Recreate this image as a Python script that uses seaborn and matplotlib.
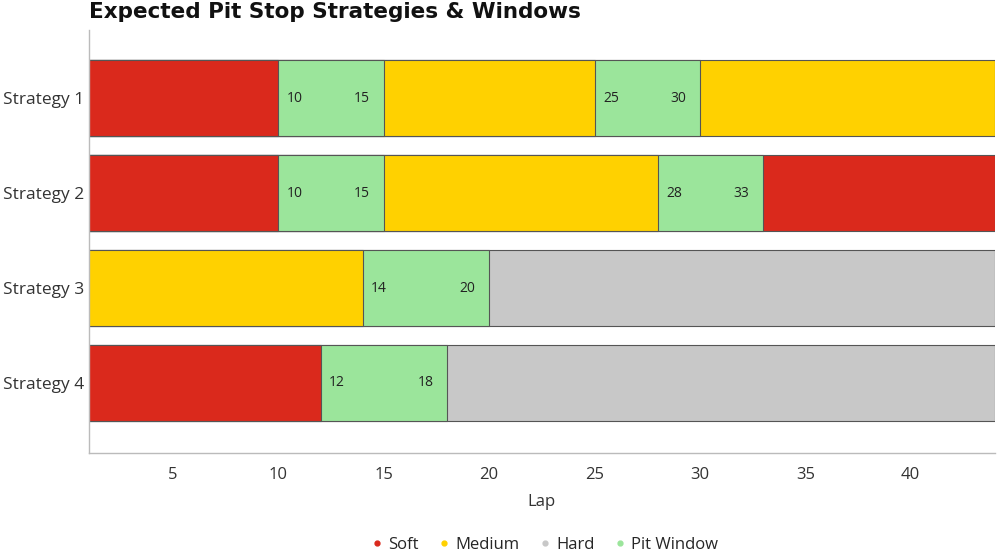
import matplotlib
matplotlib.use("Agg")
import matplotlib.pyplot as plt
from matplotlib.lines import Line2D
import seaborn as sns
import pandas as pd

strategies = ["Strategy 1", "Strategy 2", "Strategy 3", "Strategy 4"]
seg_strategy = ["Strategy 1"] * 5 + ["Strategy 2"] * 5 + ["Strategy 3"] * 3 + ["Strategy 4"] * 3
seg_compound = ["Soft", "Pit Window", "Medium", "Pit Window", "Medium",
                "Soft", "Pit Window", "Medium", "Pit Window", "Soft",
                "Medium", "Pit Window", "Hard",
                "Soft", "Pit Window", "Hard"]
seg_start = [1, 10, 15, 25, 30,
             1, 10, 15, 28, 33,
             1, 14, 20,
             1, 12, 18]
seg_end = [10, 15, 25, 30, 44,
           10, 15, 28, 33, 44,
           14, 20, 44,
           12, 18, 44]
compounds = ["Soft", "Medium", "Hard", "Pit Window"]
colors = {"Soft": "#DA291C", "Medium": "#FFD100", "Hard": "#C8C8C8", "Pit Window": "#9BE59B"}

df = pd.DataFrame({"strategy": seg_strategy, "compound": seg_compound,
                   "start": seg_start, "end": seg_end})

sns.set_style("white")
plt.rcParams["font.family"] = ["Open Sans", "DejaVu Sans"]

fig, ax = plt.subplots(figsize=(9.97, 5.51), dpi=100)
fig.subplots_adjust(left=0.089, right=0.998, top=0.945, bottom=0.178)

# draw longest first so shorter segments overlay
df_sorted = df.sort_values("end", ascending=False)
for _, row in df_sorted.iterrows():
    sub = pd.DataFrame({"strategy": [row["strategy"]], "end": [row["end"]]})
    sub["strategy"] = pd.Categorical(sub["strategy"], categories=strategies)
    sns.barplot(data=sub, x="end", y="strategy", order=strategies, color=colors[row["compound"]],
                saturation=1, width=0.8, edgecolor="#555555", linewidth=0.8, ax=ax, orient="h")

# pit window labels
pos = {s: i for i, s in enumerate(strategies)}
for _, row in df[df["compound"] == "Pit Window"].iterrows():
    y = pos[row["strategy"]]
    ax.text(row["start"] + 0.4, y, f"{row['start']}", ha="left", va="center", fontsize=10, color="#222222")
    ax.text(row["end"] - 0.65, y, f"{row['end']}", ha="right", va="center", fontsize=10, color="#222222")

ax.set_xlim(1, 44)
ax.set_ylim(3.737, -0.716)
ax.set_xticks([5, 10, 15, 20, 25, 30, 35, 40])
ax.set_xlabel("Lap", fontsize=12, color="#333333", labelpad=8)
ax.set_ylabel("")
ax.tick_params(axis="x", direction="in", length=7, color="#666666", labelsize=12, labelcolor="#333333", pad=10)
ax.tick_params(axis="y", length=0, labelsize=12.5, labelcolor="#333333", pad=3)
for s in ["top", "right"]:
    ax.spines[s].set_visible(False)
for s in ["left", "bottom"]:
    ax.spines[s].set_color("#BBBBBB")
    ax.spines[s].set_linewidth(1)

fig.text(0.089, 0.997, "Expected Pit Stop Strategies & Windows", ha="left", va="top",
         fontsize=15.5, fontweight="bold", family="DejaVu Sans", color="#111111")

handles = [Line2D([0], [0], marker="o", linestyle="", markersize=3.5,
                  markerfacecolor=colors[c], markeredgecolor=colors[c], label=c) for c in compounds]
fig.legend(handles=handles, loc="lower center", ncol=4, frameon=False, fontsize=12,
           bbox_to_anchor=(0.545, -0.03), handletextpad=0.2, columnspacing=1.0, handlelength=1.0)

fig.savefig("out.png", dpi=100)
